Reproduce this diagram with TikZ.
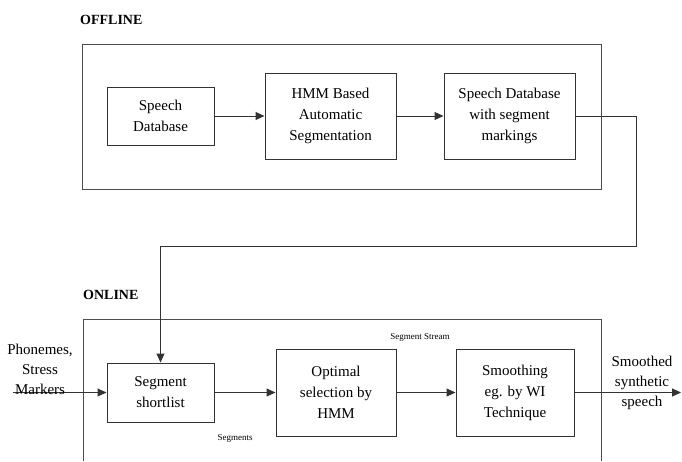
\documentclass[tikz,border=0pt]{standalone}
\usepackage{fontspec}
\setmainfont{Liberation Serif}
\usetikzlibrary{arrows.meta}
\begin{document}
\begin{tikzpicture}[x=1pt,y=-1pt,
  box/.style={draw=black!80, line width=1pt, align=center, inner sep=0pt,
    font=\fontsize{15}{21}\selectfont},
  frame/.style={draw=black!70, line width=1pt, inner sep=0pt},
  conn/.style={draw=black!80, line width=1pt, -{Triangle[length=9pt,width=8pt]}},
  title/.style={font=\fontsize{14}{16}\selectfont\bfseries, anchor=west, inner sep=0pt},
  lbl/.style={font=\fontsize{15}{20}\selectfont, align=center, inner sep=0pt},
  small/.style={font=\fontsize{9}{10}\selectfont, inner sep=0pt}]
\useasboundingbox (0,0) rectangle (682,461);
% OFFLINE
\node[title] (offt) at (80,20) {OFFLINE};
\node[frame, minimum width=519pt, minimum height=145pt] (offbox) at (341.5,116.5) {};
\node[box, minimum width=107pt, minimum height=58pt] (sdb) at (160.5,116) {Speech\\Database};
\node[box, minimum width=131pt, minimum height=86pt] (hmm) at (330.5,116) {HMM Based\\Automatic\\Segmentation};
\node[box, minimum width=131pt, minimum height=86pt] (sdbm) at (509.5,116) {Speech Database\\with segment\\markings};
\draw[conn] (sdb) -- (hmm);
\draw[conn] (hmm) -- (sdbm);
% ONLINE
\node[title] (ont) at (83,295) {ONLINE};
\coordinate (obl) at (83,461);
\coordinate (obr) at (601,461);
\draw[draw=black!70, line width=1pt] (obl) |- (601,319) -- (obr);
\node[box, minimum width=107pt, minimum height=59pt] (short) at (160.5,392.5) {Segment\\shortlist};
\node[box, minimum width=120pt, minimum height=87pt] (opt) at (336,392.5) {Optimal\\selection by\\HMM};
\node[box, minimum width=118pt, minimum height=87pt] (smooth) at (515,392.5) {Smoothing\\eg. by WI\\Technique};
\coordinate (turn) at (636,246);
\draw[conn] (sdbm.east) -| (turn) -| (short.north);
\coordinate (in) at (13,392.5);
\coordinate (out) at (681,392.5);
\draw[conn] (in) -- (short);
\draw[conn] (short) -- (opt);
\draw[conn] (opt) -- (smooth);
\draw[conn] (smooth) -- (out);
\node[lbl] (phon) at (40,369) {Phonemes,\\Stress\\Markers};
\node[lbl] (outl) at (642,383) {Smoothed\\synthetic\\speech};
\node[small] (segs) at (235,438) {Segments};
\node[small] (sstr) at (420,337) {Segment Stream};
\end{tikzpicture}
\end{document}
